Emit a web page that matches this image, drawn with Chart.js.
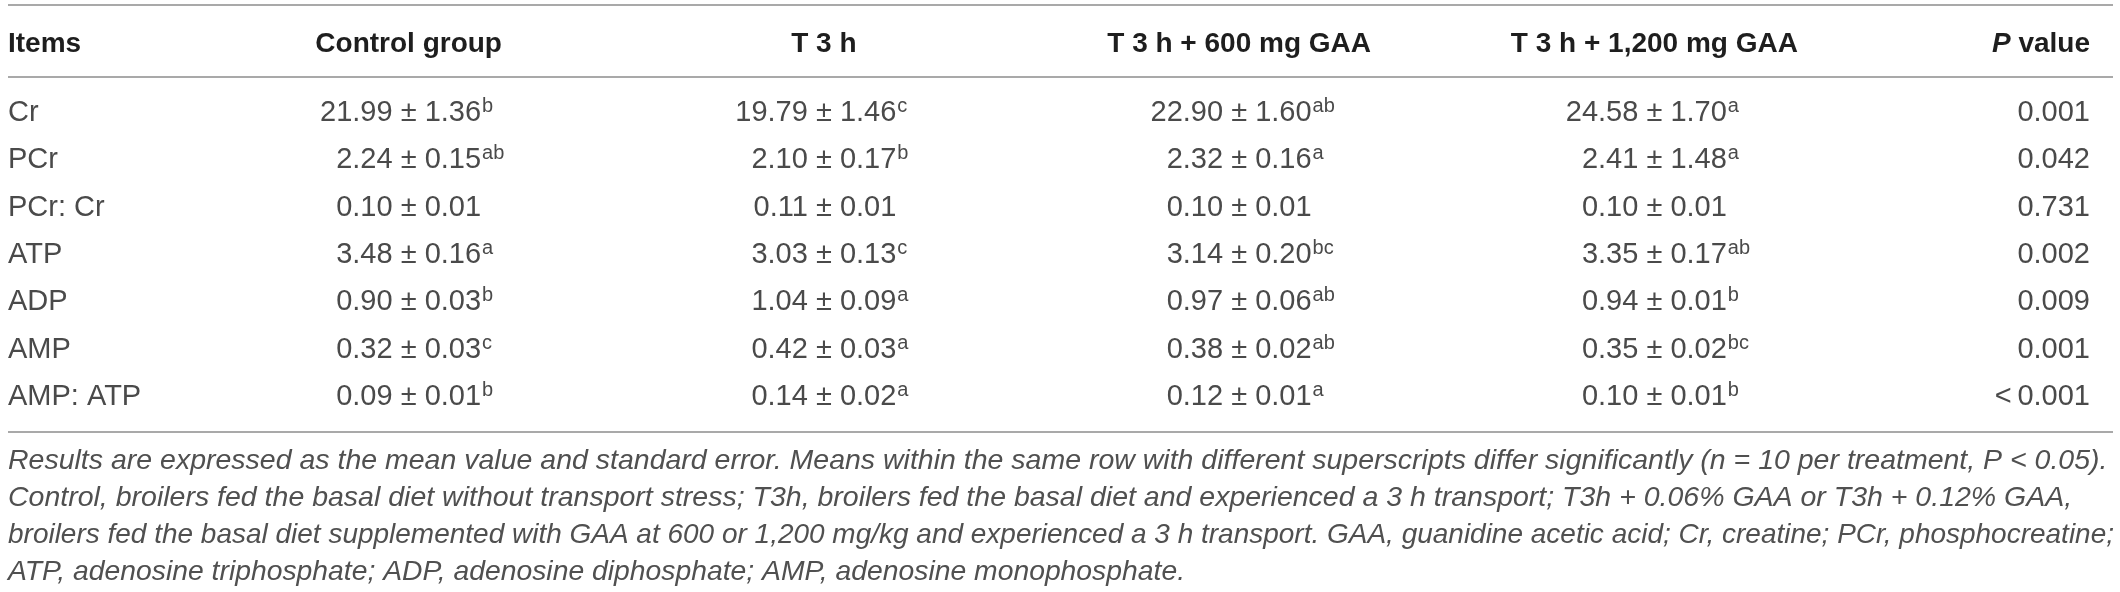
<!DOCTYPE html>
<html>
<head>
    <meta charset="utf-8">
    <title>Energy metabolites table</title>
    <script src="https://cdn.jsdelivr.net/npm/chart.js"></script>

    <style>
        html, body {
            margin: 0;
            padding: 0;
            background-color: #fff;
        }

        .table-box {
            position: relative;
            width: 2120px;
            height: 592px;
        }
    </style>
</head>

<body>

    <div class="table-box">
        <canvas id="metabolites"></canvas>
    </div>

    <script>
        // rows and columns of the table
        const items = ['Cr', 'PCr', 'PCr: Cr', 'ATP', 'ADP', 'AMP', 'AMP: ATP'];
        const groups = ['Control group', 'T 3 h', 'T 3 h + 600 mg GAA', 'T 3 h + 1,200 mg GAA'];

        // mean, standard error and superscript letters per group
        const controlMean = [21.99, 2.24, 0.10, 3.48, 0.90, 0.32, 0.09];
        const controlSe = [1.36, 0.15, 0.01, 0.16, 0.03, 0.03, 0.01];
        const controlSup = ['b', 'ab', '', 'a', 'b', 'c', 'b'];

        const t3Mean = [19.79, 2.10, 0.11, 3.03, 1.04, 0.42, 0.14];
        const t3Se = [1.46, 0.17, 0.01, 0.13, 0.09, 0.03, 0.02];
        const t3Sup = ['c', 'b', '', 'c', 'a', 'a', 'a'];

        const gaa600Mean = [22.90, 2.32, 0.10, 3.14, 0.97, 0.38, 0.12];
        const gaa600Se = [1.60, 0.16, 0.01, 0.20, 0.06, 0.02, 0.01];
        const gaa600Sup = ['ab', 'a', '', 'bc', 'ab', 'ab', 'a'];

        const gaa1200Mean = [24.58, 2.41, 0.10, 3.35, 0.94, 0.35, 0.10];
        const gaa1200Se = [1.70, 1.48, 0.01, 0.17, 0.01, 0.02, 0.01];
        const gaa1200Sup = ['a', 'a', '', 'ab', 'b', 'bc', 'b'];

        const pValues = ['0.001', '0.042', '0.731', '0.002', '0.009', '0.001', '<\u20090.001'];

        const footnote = [
            'Results are expressed as the mean value and standard error. Means within the same row with different superscripts differ significantly (n = 10 per treatment, P < 0.05).',
            'Control, broilers fed the basal diet without transport stress; T3h, broilers fed the basal diet and experienced a 3 h transport; T3h + 0.06% GAA or T3h + 0.12% GAA,',
            'broilers fed the basal diet supplemented with GAA at 600 or 1,200 mg/kg and experienced a 3 h transport. GAA, guanidine acetic acid; Cr, creatine; PCr, phosphocreatine;',
            'ATP, adenosine triphosphate; ADP, adenosine diphosphate; AMP, adenosine monophosphate.'
        ];

        const FONT = '"Liberation Sans", Arial, Helvetica, sans-serif';
        const TEXT = '#4a4a4a';

        function makeColumn(g, means, ses, sups) {
            return {
                label: groups[g],
                data: items.map(it => ({ x: groups[g], y: it })),
                means: means,
                ses: ses,
                sups: sups,
                showLine: false,
                pointRadius: 0,
                pointHoverRadius: 0
            };
        }

        // value cell: mean ± se with superscript, centred on the ± sign
        function drawCell(ctx, cx, cy, mean, se, sup) {
            ctx.font = '29px ' + FONT;
            ctx.textBaseline = 'middle';
            const base = cy + ctx.measureText('H').actualBoundingBoxDescent;
            ctx.textBaseline = 'alphabetic';
            const pm = ctx.measureText('\u00b1').width;
            const sp = ctx.measureText(' ').width;

            ctx.textAlign = 'right';
            ctx.fillText(mean.toFixed(2), cx - pm / 2 - sp, base);
            ctx.textAlign = 'center';
            ctx.fillText('\u00b1', cx, base);
            ctx.textAlign = 'left';
            const seText = se.toFixed(2);
            const seX = cx + pm / 2 + sp;
            ctx.fillText(seText, seX, base);

            if (sup) {
                const w = ctx.measureText(seText).width;
                ctx.font = '20px ' + FONT;
                ctx.fillText(sup, seX + w + 1, base - 9);
            }
        }

        const tablePlugin = {
            id: 'tableText',
            afterDatasetsDraw(chart) {
                const ctx = chart.ctx;
                const area = chart.chartArea;
                const xs = chart.scales.x;
                const right = chart.scales.y2.right;
                ctx.save();

                // horizontal rules
                ctx.strokeStyle = '#a9a9a9';
                ctx.lineWidth = 2;
                [area.top - 84, area.top - 12, area.bottom + 11].forEach(y => {
                    ctx.beginPath();
                    ctx.moveTo(8, y);
                    ctx.lineTo(chart.width - 7, y);
                    ctx.stroke();
                });

                // header row
                const headY = area.top - 37;
                ctx.fillStyle = '#1e1e1e';
                ctx.textBaseline = 'alphabetic';
                ctx.font = 'bold 28px ' + FONT;
                ctx.textAlign = 'left';
                ctx.fillText('Items', 8, headY);
                ctx.textAlign = 'center';
                groups.forEach((g, i) => ctx.fillText(g, xs.getPixelForValue(i), headY));
                ctx.textAlign = 'right';
                const valueW = ctx.measureText(' value').width;
                ctx.fillText(' value', right, headY);
                ctx.font = 'italic bold 28px ' + FONT;
                ctx.fillText('P', right - valueW, headY);

                // cells
                ctx.fillStyle = TEXT;
                chart.data.datasets.forEach((ds, i) => {
                    chart.getDatasetMeta(i).data.forEach((pt, j) => {
                        drawCell(ctx, pt.x, pt.y, ds.means[j], ds.ses[j], ds.sups[j]);
                    });
                });

                // footnote under the table
                ctx.fillStyle = '#505050';
                ctx.font = 'italic 28.5px ' + FONT;
                ctx.textAlign = 'left';
                footnote.forEach((line, k) => {
                    const maxW = k < footnote.length - 1 ? chart.width - 14 : 1177;
                    ctx.fillText(line, 8, area.bottom + 48 + k * 37, maxW);
                });

                ctx.restore();
            }
        };

        const ctx = document.getElementById('metabolites').getContext('2d');
        new Chart(ctx, {
            type: 'line',
            data: {
                labels: groups,
                datasets: [
                    makeColumn(0, controlMean, controlSe, controlSup),
                    makeColumn(1, t3Mean, t3Se, t3Sup),
                    makeColumn(2, gaa600Mean, gaa600Se, gaa600Sup),
                    makeColumn(3, gaa1200Mean, gaa1200Se, gaa1200Sup)
                ]
            },
            options: {
                responsive: true,
                maintainAspectRatio: false,
                animation: false,
                events: [],
                layout: {
                    padding: { left: 8, right: 30, top: 89, bottom: 171 }
                },
                plugins: {
                    legend: { display: false },
                    tooltip: { enabled: false }
                },
                scales: {
                    x: {
                        type: 'category',
                        offset: true,
                        display: false
                    },
                    y: {
                        type: 'category',
                        labels: items,
                        offset: true,
                        position: 'left',
                        grid: { display: false, drawTicks: false },
                        border: { display: false },
                        ticks: {
                            autoSkip: false,
                            crossAlign: 'far',
                            padding: 0,
                            color: TEXT,
                            font: { family: FONT, size: 29 }
                        },
                        afterFit(scale) {
                            scale.width = 193;
                        }
                    },
                    y2: {
                        type: 'category',
                        labels: pValues,
                        offset: true,
                        position: 'right',
                        grid: { display: false, drawTicks: false },
                        border: { display: false },
                        ticks: {
                            autoSkip: false,
                            crossAlign: 'far',
                            padding: 0,
                            color: TEXT,
                            font: { family: FONT, size: 29 }
                        },
                        afterFit(scale) {
                            scale.width = 228;
                        }
                    }
                }
            },
            plugins: [tablePlugin]
        });
    </script>

</body>
</html>
